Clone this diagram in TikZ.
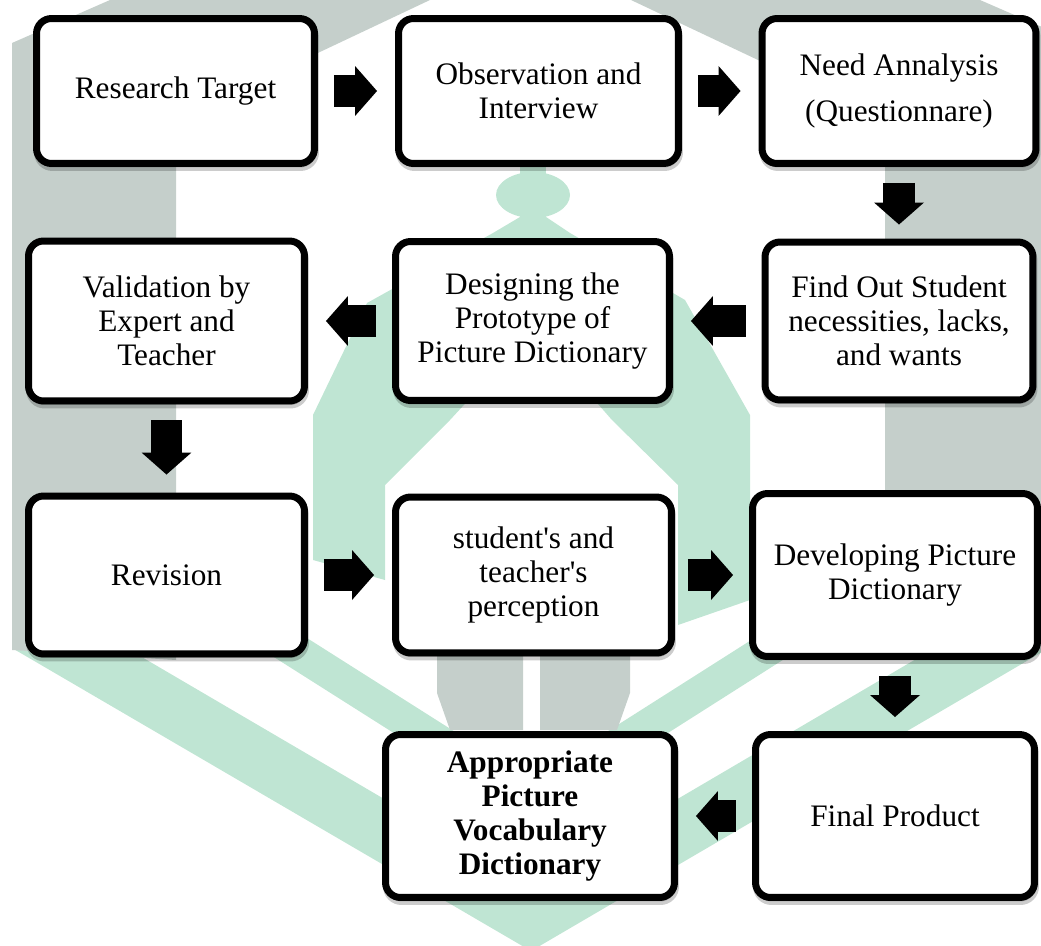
\documentclass[tikz,border=0pt]{standalone}
\usepackage{fontspec}
\setmainfont{Liberation Serif}
\usetikzlibrary{arrows.meta,shadows}

\definecolor{logogrey}{RGB}{197,207,203}
\definecolor{logogreen}{RGB}{191,229,211}
\newcommand{\stagefont}{\fontsize{17.8}{19.4}\selectfont}
\newcommand{\wsp}{\hspace{0.25em}}

\tikzset{
  stage/.style={draw, line width=0.14cm, rounded corners=0.3cm, fill=white,
    align=center, inner sep=0pt, font=\stagefont,
    drop shadow={shadow xshift=0.02cm, shadow yshift=-0.08cm, fill=black, draw=black, opacity=0.2}},
  flow/.style={line width=0.64cm, -{Triangle[length=0.44cm, width=1cm, line width=0pt]},
    shorten <=0.32cm, shorten >=0.36cm}
}

\begin{document}
\begin{tikzpicture}[x=0.02cm,y=-0.02cm]
\useasboundingbox (0,0) rectangle (1041,946);
% watermark logo behind the chart
\begin{scope}
\clip (0,0) rectangle (1041,946);
\fill[logogreen] (12,581) -- (531,885) -- (1049,581) -- (1049,648) -- (531,951) -- (12,648) -- cycle;
\fill[logogreen] (176,555) -- (531,780) -- (885,555) -- (885,595) -- (531,820) -- (176,595) -- cycle;
\fill[logogrey] (12,650) -- (12,43) -- (110,0) -- (430,0) -- (176,120) -- (176,660) -- cycle;
\fill[logogrey] (1049,650) -- (1049,30) -- (980,0) -- (631,0) -- (885,120) -- (885,655) -- cycle;
\fill[logogrey] (437,640) -- (523,640) -- (523,730) -- (450,730) -- (437,693) -- cycle;
\fill[logogrey] (540,640) -- (630,640) -- (630,693) -- (617,730) -- (540,730) -- cycle;
\fill[logogreen] (533,195) ellipse [x radius=0.74cm, y radius=0.46cm];
\fill[logogreen] (520,160) rectangle (546,240);
\fill[logogreen] (520,217) -- (493,233) -- (367,303) -- (313,415) -- (313,560) -- (385,580)
  -- (385,485) -- (450,420) -- (533,330) -- (612,420) -- (678,485) -- (678,625) -- (750,600)
  -- (750,415) -- (685,300) -- (570,233) -- (546,217) -- cycle;
\end{scope}

% stages
\node[stage, minimum width=5.56cm, minimum height=2.90cm] (target) at (175.5,91) {Research Target};
\node[stage, minimum width=5.60cm, minimum height=2.90cm] (observe) at (538.5,91) {Observation\wsp and\\Interview};
\node[stage, minimum width=5.48cm, minimum height=2.90cm] (needs) at (899,91) {Need Annalysis\\[0.22cm](Questionnare)};
\node[stage, minimum width=5.36cm, minimum height=3.16cm] (findout) at (899,321) {Find Out Student\\necessities,\wsp lacks,\\and wants};
\node[stage, minimum width=5.48cm, minimum height=3.18cm] (design) at (532.5,321) {Designing\wsp the\\Prototype\wsp of\\Picture\wsp Dictionary};
\node[stage, minimum width=5.52cm, minimum height=3.20cm] (valid) at (166.5,321) {Validation\wsp by\\Expert\wsp and\\Teacher};
\node[stage, minimum width=5.52cm, minimum height=3.16cm] (revise) at (166.5,575) {Revision};
\node[stage, minimum width=5.52cm, minimum height=3.12cm] (percept) at (533.5,575) {student\textquotesingle s\wsp and\\teacher\textquotesingle s\\perception};
\node[stage, minimum width=5.70cm, minimum height=3.26cm] (develop) at (895,575) {Developing\wsp Picture\\Dictionary};
\node[stage, minimum width=5.58cm, minimum height=3.26cm] (final) at (895,816) {Final\wsp Product};
\node[stage, minimum width=5.78cm, minimum height=3.26cm, font=\stagefont\bfseries] (result) at (530,816) {Appropriate\\Picture\\Vocabulary\\Dictionary};

% block arrows
\draw[flow] (target) -- (observe);
\draw[flow] (observe) -- (needs);
\draw[flow, shorten >=0.28cm] (needs) -- (findout);
\draw[flow] (findout) -- (design);
\draw[flow] (design) -- (valid);
\draw[flow] (valid) -- (revise);
\draw[flow] (revise) -- (percept);
\draw[flow, shorten <=0.26cm, shorten >=0.32cm] (percept) -- (develop);
\draw[flow, shorten >=0.28cm] (develop) -- (final);
\draw[flow] (final) -- (result);
\end{tikzpicture}
\end{document}
